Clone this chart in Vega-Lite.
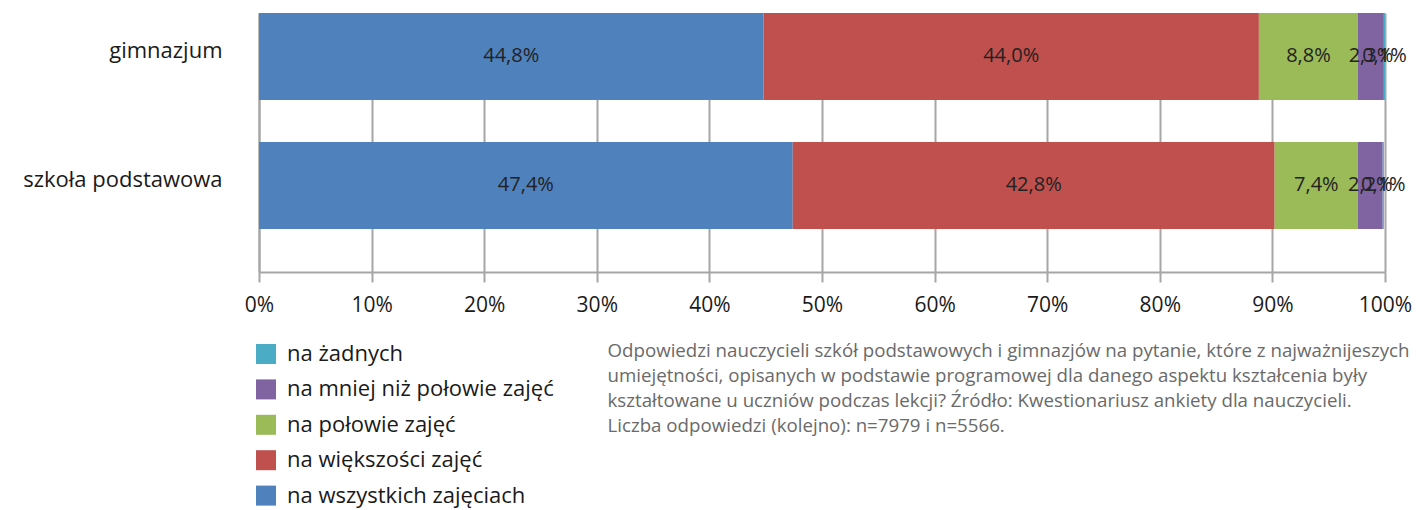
{
  "$schema": "https://vega.github.io/schema/vega-lite/v6.json",
  "width": 1126,
  "height": 259,
  "autosize": {"type": "none"},
  "padding": {"left": 259, "top": 13, "right": 31, "bottom": 238},
  "config": {
    "locale": {"number": {"decimal": ",", "thousands": " ", "grouping": [3], "currency": ["", " zł"]}},
    "view": {"stroke": null},
    "font": "Open Sans",
    "axisX": {
      "format": ".0%",
      "tickCount": 10,
      "grid": true,
      "gridColor": "#a6a6a6",
      "gridWidth": 2,
      "domainColor": "#a6a6a6",
      "domainWidth": 2,
      "tickColor": "#a6a6a6",
      "tickWidth": 2,
      "tickSize": 10,
      "labelFontSize": 21,
      "labelColor": "#1a1a1a",
      "labelPadding": 12,
      "labelFlush": false,
      "labelOverlap": false,
      "labelFont": "Open Sans"
    }
  },
  "data": {
    "values": [
      {"szkola": "gimnazjum", "kategoria": "na wszystkich zajęciach", "ord": 1, "wartosc": 0.448},
      {"szkola": "gimnazjum", "kategoria": "na większości zajęć", "ord": 2, "wartosc": 0.440},
      {"szkola": "gimnazjum", "kategoria": "na połowie zajęć", "ord": 3, "wartosc": 0.088},
      {"szkola": "gimnazjum", "kategoria": "na mniej niż połowie zajęć", "ord": 4, "wartosc": 0.023},
      {"szkola": "gimnazjum", "kategoria": "na żadnych", "ord": 5, "wartosc": 0.001},
      {"szkola": "szkoła podstawowa", "kategoria": "na wszystkich zajęciach", "ord": 1, "wartosc": 0.474},
      {"szkola": "szkoła podstawowa", "kategoria": "na większości zajęć", "ord": 2, "wartosc": 0.428},
      {"szkola": "szkoła podstawowa", "kategoria": "na połowie zajęć", "ord": 3, "wartosc": 0.074},
      {"szkola": "szkoła podstawowa", "kategoria": "na mniej niż połowie zajęć", "ord": 4, "wartosc": 0.022},
      {"szkola": "szkoła podstawowa", "kategoria": "na żadnych", "ord": 5, "wartosc": 0.001}
    ]
  },
  "transform": [
    {"stack": "wartosc", "groupby": ["szkola"], "sort": [{"field": "ord", "order": "ascending"}], "as": ["x0", "x1"]},
    {"calculate": "(datum.x0 + datum.x1) / 2", "as": "mid"}
  ],
  "encoding": {
    "y": {
      "field": "szkola",
      "type": "nominal",
      "sort": ["gimnazjum", "szkoła podstawowa"],
      "title": null,
      "scale": {"paddingInner": 0.326, "paddingOuter": 0.167, "align": 0},
      "axis": {
        "ticks": false,
        "domainColor": "#a6a6a6",
        "domainWidth": 2,
        "labelFontSize": 22,
        "labelColor": "#1a1a1a",
        "labelPadding": 37,
        "labelOffset": -5,
        "labelLimit": 0,
        "labelFont": "Open Sans"
      }
    }
  },
  "layer": [
    {
      "mark": {"type": "bar"},
      "encoding": {
        "x": {
          "field": "x0",
          "type": "quantitative",
          "scale": {"domain": [0, 1], "nice": false},
          "axis": {
            "title": [
              "Odpowiedzi nauczycieli szkół podstawowych i gimnazjów na pytanie, które z najważnijeszych",
              "umiejętności, opisanych w podstawie programowej dla danego aspektu kształcenia były",
              "kształtowane u uczniów podczas lekcji? Źródło: Kwestionariusz ankiety dla nauczycieli.",
              "Liczba odpowiedzi (kolejno): n=7979 i n=5566."
            ],
            "titleX": 348,
            "titleY": 69,
            "titleAlign": "left",
            "titleAnchor": "start",
            "titleBaseline": "top",
            "titleFontSize": 18.7,
            "titleFontWeight": "normal",
            "titleFont": "Open Sans",
            "titleColor": "#6a6a6a",
            "titleLineHeight": 25
          }
        },
        "x2": {"field": "x1"},
        "color": {
          "field": "kategoria",
          "type": "nominal",
          "scale": {
            "domain": ["na żadnych", "na mniej niż połowie zajęć", "na połowie zajęć", "na większości zajęć", "na wszystkich zajęciach"],
            "range": ["#4BACC6", "#8064A2", "#9BBB59", "#C0504D", "#4F81BD"]
          },
          "legend": {
            "orient": "none",
            "legendX": -4,
            "legendY": 330,
            "title": null,
            "symbolType": "square",
            "symbolSize": 400,
            "symbolStrokeWidth": 0,
            "labelFontSize": 22,
            "labelColor": "#1a1a1a",
            "labelFont": "Open Sans",
            "labelOffset": 10,
            "labelLimit": 0,
            "rowPadding": 13.4
          }
        }
      }
    },
    {
      "mark": {"type": "text", "fontSize": 20, "color": "#222222", "font": "Open Sans"},
      "encoding": {
        "x": {"field": "mid", "type": "quantitative"},
        "text": {"field": "wartosc", "type": "quantitative", "format": ".1%"}
      }
    }
  ]
}
